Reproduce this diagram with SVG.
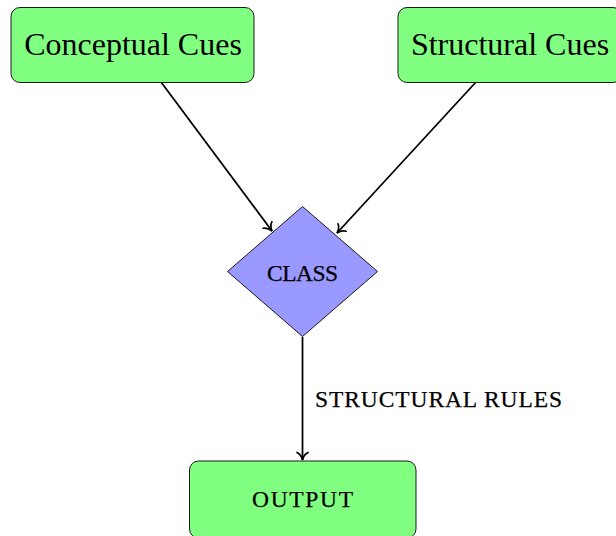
<svg xmlns="http://www.w3.org/2000/svg" width="616" height="536" viewBox="0 0 616 536">
<style>
.box{fill:#80ff80;stroke:#1a1a1a;stroke-width:1}
.dia{fill:#9999ff;stroke:#1a1a1a;stroke-width:1}
.big{font-family:"Liberation Serif","DejaVu Serif",serif;font-size:32px;fill:#000}
.sc{font-family:"Liberation Serif","DejaVu Serif",serif;font-size:23.5px;fill:#000;stroke:#000;stroke-width:0.25}
.edge{stroke:#000;stroke-width:1.8;fill:none}
</style>
<defs>
<marker id="arr" markerUnits="userSpaceOnUse" markerWidth="16" markerHeight="16" viewBox="-9 -8 11 16" refX="0" refY="0" orient="auto" overflow="visible">
<path d="M -7.5,-5.5 C -6,-2.4 -2.5,-0.6 0,0 C -2.5,0.6 -6,2.4 -7.5,5.5" fill="none" stroke="#000" stroke-width="1.7" stroke-linecap="round"/>
</marker>
</defs>
<g id="edges">
<line class="edge" x1="161" y1="82" x2="272" y2="231" marker-end="url(#arr)"/>
<line class="edge" x1="476" y1="82" x2="337" y2="233" marker-end="url(#arr)"/>
<line class="edge" x1="302.5" y1="337" x2="302.5" y2="460" marker-end="url(#arr)"/>
<text class="sc" x="315" y="407" textLength="247" lengthAdjust="spacing">STRUCTURAL RULES</text>
</g>
<g id="conceptual">
<rect class="box" x="11" y="7.5" width="243" height="75" rx="9"/>
<text class="big" x="133" y="55" text-anchor="middle">Conceptual Cues</text>
</g>
<g id="structural">
<rect class="box" x="398" y="7.5" width="224" height="75" rx="9"/>
<text class="big" x="510" y="55" text-anchor="middle">Structural Cues</text>
</g>
<g id="class">
<polygon class="dia" points="302.5,206.5 377.5,271.5 302.5,336.5 227.5,271.5"/>
<text class="sc" x="267" y="280.5" textLength="71" lengthAdjust="spacing">CLASS</text>
</g>
<g id="output">
<rect class="box" x="189.5" y="461" width="226.5" height="77" rx="9"/>
<text class="sc" x="252" y="507" textLength="101" lengthAdjust="spacing">OUTPUT</text>
</g>
</svg>
